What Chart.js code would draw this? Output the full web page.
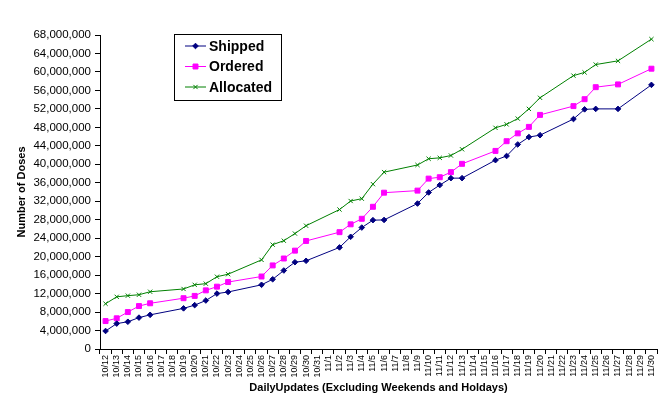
<!DOCTYPE html>
<html>
<head>
<meta charset="utf-8">
<script src="https://cdn.jsdelivr.net/npm/chart.js@4/dist/chart.umd.min.js"></script>
<style>
  html, body { margin: 0; padding: 0; background: #ffffff; }
  #wrap { width: 665px; height: 405px; }
</style>
</head>
<body>
<div id="wrap"><canvas id="myChart" width="665" height="405"></canvas></div>
<script>
// Fechas del eje X (dias corridos, sin datos fines de semana y feriados)
const fechas = [
    "10/12", "10/13", "10/14", "10/15", "10/16", "10/17", "10/18", "10/19", "10/20", "10/21",
    "10/22", "10/23", "10/24", "10/25", "10/26", "10/27", "10/28", "10/29", "10/30", "10/31",
    "11/1", "11/2", "11/3", "11/4", "11/5", "11/6", "11/7", "11/8", "11/9", "11/10",
    "11/11", "11/12", "11/13", "11/14", "11/15", "11/16", "11/17", "11/18", "11/19", "11/20",
    "11/21", "11/22", "11/23", "11/24", "11/25", "11/26", "11/27", "11/28", "11/29", "11/30"
];

const shipped = [
    3900000, 5500000, 5900000, 6800000, 7400000, null, null, 8800000, 9500000, 10500000,
    12000000, 12350000, null, null, 13900000, 15100000, 17000000, 18800000, 19100000, null,
    null, 22000000, 24300000, 26300000, 27900000, 27950000, null, null, 31500000, 33900000,
    35500000, 37000000, 37000000, null, null, 40900000, 41800000, 44300000, 45900000, 46300000,
    null, null, 49800000, 51900000, 52000000, null, 52000000, null, null, 57200000
];

const ordered = [
    6050000, 6650000, 8000000, 9300000, 9900000, null, null, 11000000, 11500000, 12700000,
    13500000, 14500000, null, null, 15700000, 18100000, 19600000, 21300000, 23400000, null,
    null, 25300000, 27000000, 28200000, 30800000, 33850000, null, null, 34300000, 36900000,
    37200000, 38300000, 40100000, null, null, 42900000, 45000000, 46700000, 48100000, 50700000,
    null, null, 52600000, 54100000, 56700000, null, 57300000, null, null, 60700000
];

const allocated = [
    9800000, 11300000, 11550000, 11750000, 12400000, null, null, 13000000, 13900000, 14150000,
    15650000, 16200000, null, null, 19300000, 22600000, 23450000, 25000000, 26700000, null,
    null, 30200000, 32050000, 32550000, 35700000, 38300000, null, null, 39850000, 41200000,
    41400000, 41900000, 43250000, null, null, 47900000, 48650000, 49900000, 52000000, 54400000,
    null, null, 59200000, 59900000, 61600000, null, 62400000, null, null, 67100000
];

const yMax = 68000000;
const yPaso = 4000000;

const fuente = "'Liberation Sans', Arial, sans-serif";

// Leyenda dibujada dentro del area del grafico, con borde negro
const leyendaPlugin = {
    id: 'leyendaCaja',
    afterDraw: (chart) => {
        const {ctx} = chart;
        const x0 = 174.5, y0 = 34.5, w = 107, h = 66;
        ctx.save();
        ctx.fillStyle = '#ffffff';
        ctx.fillRect(x0, y0, w, h);
        ctx.strokeStyle = '#000000';
        ctx.lineWidth = 1;
        ctx.strokeRect(x0, y0, w, h);
        ctx.font = "bold 14px " + fuente;
        ctx.textBaseline = 'middle';
        chart.data.datasets.forEach((ds, i) => {
            const yy = 46 + i * 20.5;
            ctx.strokeStyle = ds.borderColor;
            ctx.fillStyle = ds.borderColor;
            ctx.beginPath();
            ctx.moveTo(185, yy);
            ctx.lineTo(206, yy);
            ctx.stroke();
            Chart.helpers.drawPoint(ctx, {
                pointStyle: ds.pointStyle,
                radius: ds.pointRadius,
                borderWidth: 1
            }, 195.5, yy);
            ctx.fillStyle = '#000000';
            ctx.fillText(ds.label, 209, yy + 1);
        });
        ctx.restore();
    }
};

function crearDataset(label, data, color, estilo, radio) {
    return {
        label,
        data,
        borderColor: color,
        backgroundColor: color,
        borderWidth: 1,
        pointStyle: estilo,
        pointRadius: radio,
        pointBorderWidth: 1,
        pointBorderColor: color,
        pointBackgroundColor: color,
        spanGaps: true,
        tension: 0
    };
}

const config = {
    type: "line",
    data: {
        labels: fechas,
        datasets: [
            crearDataset("Shipped", shipped, "#000080", "rectRot", 2.8),
            crearDataset("Ordered", ordered, "#ff00ff", "rect", 3.5),
            crearDataset("Allocated", allocated, "#008000", "crossRot", 3)
        ]
    },
    options: {
        responsive: false,
        animation: false,
        layout: { padding: { top: 35, right: 8, left: 15, bottom: 10 } },
        plugins: {
            legend: { display: false },
            tooltip: { enabled: false }
        },
        scales: {
            x: {
                offset: true,
                grid: {
                    offset: true,
                    drawOnChartArea: false,
                    drawTicks: true,
                    tickLength: 5,
                    color: '#000000'
                },
                border: { color: '#000000', width: 1 },
                ticks: {
                    autoSkip: false,
                    minRotation: 90,
                    maxRotation: 90,
                    padding: 1,
                    color: '#000000',
                    font: { family: fuente, size: 9 }
                },
                title: {
                    display: true,
                    text: "DailyUpdates (Excluding Weekends and Holdays)",
                    color: '#000000',
                    font: { family: fuente, size: 11, weight: 'bold' },
                    padding: { top: 2, bottom: 0 }
                },
                afterFit: (scale) => { scale.height = 46; }
            },
            y: {
                min: 0,
                max: yMax,
                grid: {
                    drawOnChartArea: false,
                    drawTicks: true,
                    tickLength: 5,
                    color: '#000000'
                },
                border: { color: '#000000', width: 1 },
                ticks: {
                    stepSize: yPaso,
                    padding: 4,
                    color: '#000000',
                    font: { family: fuente, size: 11.5 },
                    callback: (v) => v.toLocaleString('en-US')
                },
                title: {
                    display: true,
                    text: "Number of Doses",
                    color: '#000000',
                    font: { family: fuente, size: 11, weight: 'bold' },
                    padding: { top: 0, bottom: 4 }
                },
                afterFit: (scale) => { scale.width = 85; }
            }
        }
    },
    plugins: [leyendaPlugin]
};

const myChart = new Chart(document.querySelector("#myChart"), config);
</script>
</body>
</html>
